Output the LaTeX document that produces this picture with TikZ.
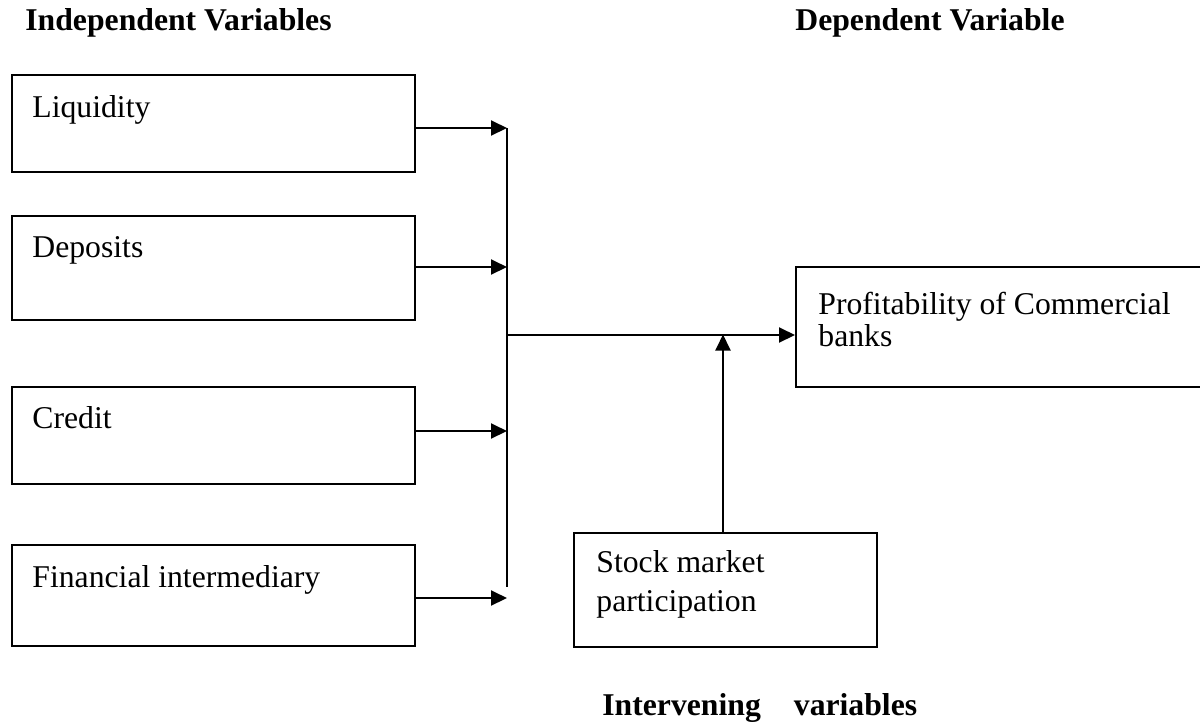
\documentclass[tikz,border=0pt]{standalone}
\usepackage{fontspec}
\setmainfont{Liberation Serif}
\usetikzlibrary{arrows.meta}
\begin{document}
\begin{tikzpicture}[x=0.5pt,y=-0.5pt,
  box/.style={draw,line width=1pt,rectangle,inner sep=0pt},
  lbl/.style={anchor=base west,inner sep=0pt,font=\fontsize{15.85pt}{19pt}\selectfont},
  head/.style={anchor=base west,inner sep=0pt,font=\fontsize{15.85pt}{19pt}\selectfont\bfseries},
  conn/.style={line width=1pt},
  arr/.style={line width=1pt,-{Triangle[length=8pt,width=7.5pt]}}]
\useasboundingbox (0,0) rectangle (1200,725);
% headings
\node[head] (hind) at (25,30) {Independent Variables};
\node[head] (hdep) at (795,30) {Dependent Variable};
\node[head] (hint) at (602,715) {Intervening\hspace{16.5pt}variables};
% boxes
\node[box,minimum width=201.5pt,minimum height=48.5pt] (liq) at (213.5,123.5) {};
\node[box,minimum width=201.5pt,minimum height=52pt] (dep) at (213.5,268) {};
\node[box,minimum width=201.5pt,minimum height=48.5pt] (cre) at (213.5,435.5) {};
\node[box,minimum width=201.5pt,minimum height=50.5pt] (fin) at (213.5,595.5) {};
\node[box,minimum width=210pt,minimum height=60pt] (prof) at (1006,327) {};
\node[box,minimum width=151.5pt,minimum height=57pt] (stock) at (725.5,590) {};
% texts
\node[lbl] (tliq) at (32,117) {Liquidity};
\node[lbl] (tdep) at (32,257) {Deposits};
\node[lbl] (tcre) at (32,428) {Credit};
\node[lbl] (tfin) at (32,587) {Financial intermediary};
\node[lbl] (tprof1) at (818,314) {Profitability of Commercial};
\node[lbl] (tprof2) at (818,346) {banks};
\node[lbl] (tst1) at (596,572) {Stock market};
\node[lbl] (tst2) at (596,611) {participation};
% junction coordinates
\coordinate (jl) at (507,128);
\coordinate (jd) at (507,267);
\coordinate (jc) at (507,431);
\coordinate (jf) at (507,598);
\coordinate (vtop) at (507,128);
\coordinate (vbot) at (507,587);
\coordinate (hm) at (507,335);
\coordinate (vm) at (723,334.5);
% connectors
\draw[arr] (liq.east |- jl) -- (jl);
\draw[arr] (dep.east |- jd) -- (jd);
\draw[arr] (cre.east |- jc) -- (jc);
\draw[arr] (fin.east |- jf) -- (jf);
\draw[conn] (vtop) -- (vbot);
\draw[arr] (hm) -- (prof.west |- hm);
\draw[arr] (stock.north -| vm) -- (vm);
\end{tikzpicture}
\end{document}
